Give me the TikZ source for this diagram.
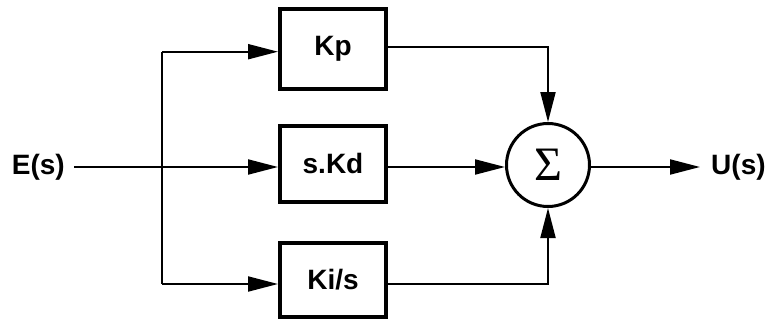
\documentclass[tikz,border=0pt]{standalone}
\usepackage{fontspec}
\setmainfont{Liberation Sans}
\newfontfamily\sigmafont{Liberation Serif}
\usetikzlibrary{arrows.meta}
\begin{document}
\begin{tikzpicture}[x=1pt,y=-1pt,
  blk/.style={draw, line width=4pt, minimum width=106pt, inner sep=0pt,
    font=\fontsize{28}{32}\selectfont\bfseries},
  lbl/.style={inner ysep=0pt, font=\fontsize{28}{32}\selectfont\bfseries},
  conn/.style={line width=2pt},
  arr/.style={conn, -{Triangle[length=30pt,width=15pt]}}]
\useasboundingbox (0,0) rectangle (770,321);
\node[blk, minimum height=80pt] (kp) at (333,49) {Kp};
\node[blk, minimum height=76pt] (kd) at (333,163.5) {s.Kd};
\node[blk, minimum height=74pt] (ki) at (333,280) {Ki/s};
\node[draw, circle, line width=3pt, minimum size=83pt, inner sep=0pt] (sum) at (548,165)
  {\sigmafont\fontsize{48}{50}\selectfont Σ};
\node[lbl, anchor=east, inner xsep=9pt] (E) at (74,167) {E(s)};
\node[lbl, anchor=west, inner xsep=11pt] (U) at (700,167) {U(s)};
\coordinate (bt) at (162,51.7);
\coordinate (bb) at (162,284);
\coordinate (kpo) at (388,47.3);
\draw[arr] (E.east) -- (E.east -| kd.west);
\draw[conn] (bt) -- (bb);
\draw[arr] (bt) -- (bt -| kp.west);
\draw[arr] (bb) -- (bb -| ki.west);
\draw[arr] (kpo -| kp.east) -| (sum.north);
\draw[arr] (E.east -| kd.east) -- (E.east -| sum.west);
\draw[arr] (bb -| ki.east) -| (sum.south);
\draw[arr] (E.east -| sum.east) -- (U.west);
\end{tikzpicture}
\end{document}
